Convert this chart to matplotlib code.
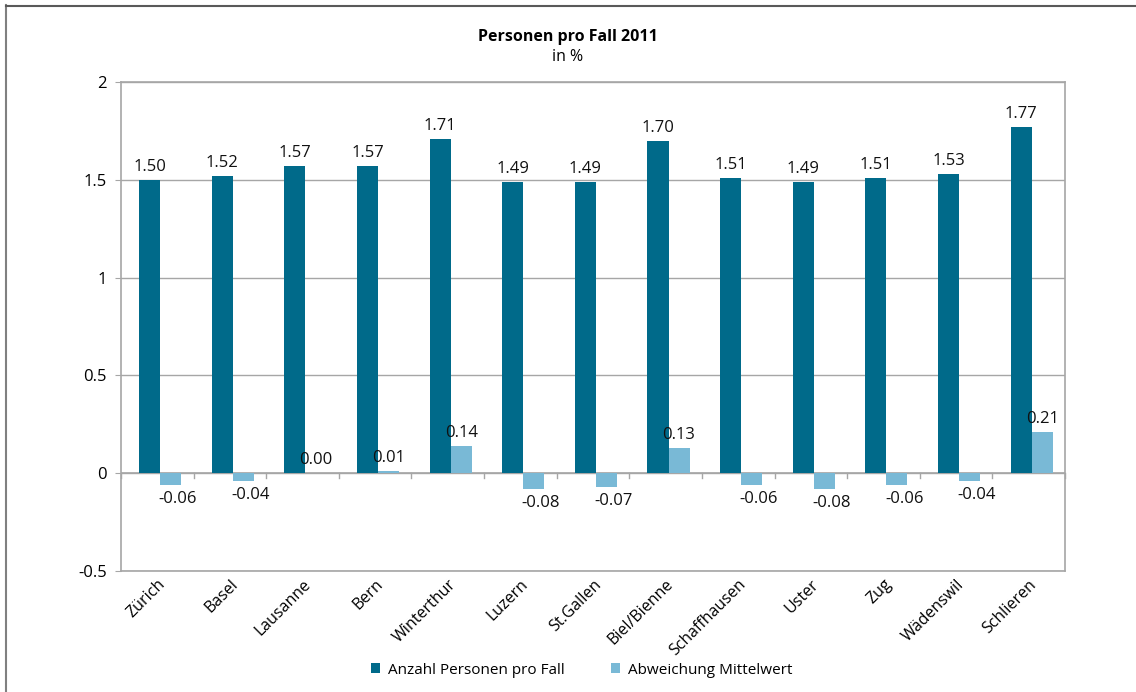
import matplotlib
matplotlib.use("Agg")
import matplotlib.pyplot as plt
import numpy as np
from matplotlib.lines import Line2D

categories = ["Zürich", "Basel", "Lausanne", "Bern", "Winterthur", "Luzern", "St.Gallen",
              "Biel/Bienne", "Schaffhausen", "Uster", "Zug", "Wädenswil", "Schlieren"]
persons = [1.50, 1.52, 1.57, 1.57, 1.71, 1.49, 1.49, 1.70, 1.51, 1.49, 1.51, 1.53, 1.77]
deviation = [-0.06, -0.04, 0.00, 0.01, 0.14, -0.08, -0.07, 0.13, -0.06, -0.08, -0.06, -0.04, 0.21]
series_names = ["Anzahl Personen pro Fall", "Abweichung Mittelwert"]
yticks = [-0.5, 0, 0.5, 1, 1.5, 2]
ytick_labels = ["-0.5", "0", "0.5", "1", "1.5", "2"]

plt.rcParams['font.family'] = ['Open Sans', 'DejaVu Sans']
dark = "#006a8a"
light = "#79b9d6"
grey = "#a6a6a6"

fig = plt.figure(figsize=(11.36, 6.92), dpi=100)
ax = fig.add_axes([121/1136, 1-571/692, (1065-121)/1136, (571-82)/692])

x = np.arange(len(categories))
w = 0.29
b1 = ax.bar(x + 0.04 - w/2, persons, w, color=dark, label=series_names[0], zorder=3)
b2 = ax.bar(x + 0.04 + w/2, deviation, w, color=light, label=series_names[1], zorder=3)

for xi, v in zip(x, persons):
    ax.text(xi + 0.04 - w/2, v + 0.025, f"{v:.2f}", ha="center", va="bottom", fontsize=12, color="#111111")
for xi, v in zip(x, deviation):
    if v < 0:
        ax.text(xi + 0.04 + w/2 + 0.1, v - 0.03, f"{v:.2f}", ha="center", va="top", fontsize=12, color="#111111")
    else:
        ax.text(xi + 0.04 + w/2, v + 0.025, f"{v:.2f}", ha="center", va="bottom", fontsize=12, color="#111111")

ax.set_xlim(-0.5, len(categories) - 0.5)
ax.set_ylim(-0.5, 2)
ax.set_yticks(yticks)
ax.set_yticklabels(ytick_labels, fontsize=12)
ax.yaxis.grid(True, color=grey, linewidth=1, zorder=0)
ax.axhline(0, color=grey, linewidth=1.2, zorder=2)
ax.tick_params(axis="y", length=4, color=grey, pad=6)

ax.set_xticks(x)
ax.set_xticklabels(categories, rotation=45, ha="right", rotation_mode="anchor", fontsize=11.5)
ax.tick_params(axis="x", length=0, pad=4)
# category boundary ticks on zero line
for b in np.arange(-0.5, len(categories) + 0.5, 1):
    ax.plot([b, b], [0, -0.025], color=grey, linewidth=1, zorder=2, clip_on=False)

for s in ax.spines.values():
    s.set_color(grey)
    s.set_linewidth(1.2)

fig.text(0.5, 1-37/692, "Personen pro Fall 2011", ha="center", va="center", fontsize=11.5, fontweight="bold")
fig.text(0.5, 1-57/692, "in %", ha="center", va="center", fontsize=11.5)

ax.legend(loc="center", bbox_to_anchor=(0.488, -(670-571)/489), ncol=2, frameon=False,
          fontsize=11, handlelength=0.6, handleheight=0.6, handletextpad=0.5, columnspacing=3.0)

fig.add_artist(Line2D([5.5/1136, 5.5/1136], [1-5/692, -0.1], color="#808080", linewidth=1.5, transform=fig.transFigure))
fig.add_artist(Line2D([5.5/1136, 1.1], [1-5.5/692, 1-5.5/692], color="#595959", linewidth=1.5, transform=fig.transFigure))

fig.savefig("out.png", dpi=100)
